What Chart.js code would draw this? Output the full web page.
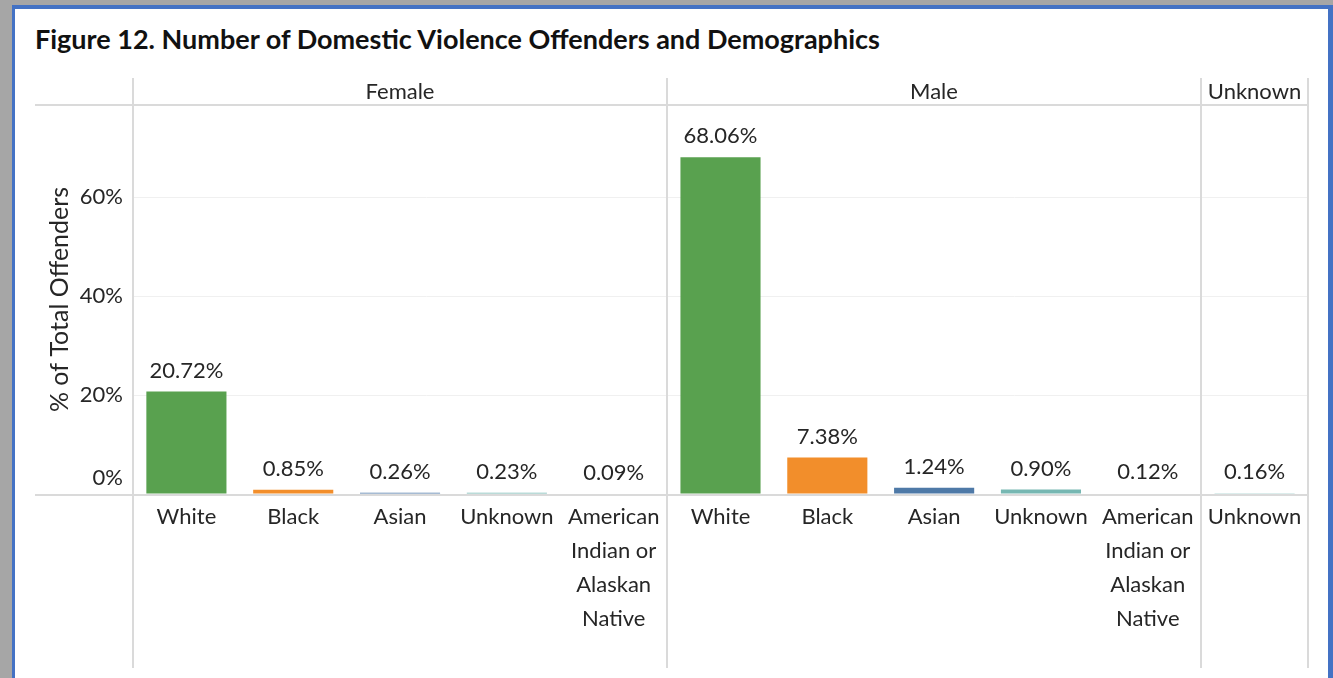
<!DOCTYPE html>
<html>
<head>
<meta charset="utf-8">
<script src="https://cdn.jsdelivr.net/npm/chart.js@4"></script>
<style>
  html, body { margin: 0; padding: 0; }
  body { width: 1333px; height: 678px; overflow: hidden; background: #a6a6a6; position: relative; font-family: Lato, "Open Sans", sans-serif; }
  #frame { position: absolute; left: 12px; top: 5px; width: 1313px; height: 700px; background: #fff; border: solid #4472c4; border-width: 4px 5px 0 3px; }
  #title { position: absolute; left: 35px; top: 24px; font: bold 27px/30px Lato, sans-serif; color: #111; white-space: nowrap; }
  #chart { position: absolute; left: 0; top: 0; }
</style>
</head>
<body>
<div id="frame"></div>
<div id="title">Figure 12. Number of Domestic Violence Offenders and Demographics</div>
<canvas id="chart" width="1333" height="678"></canvas>
<script>
// offender share by gender and race
const genders = ['Female', 'Male', 'Unknown'];
const genderSizes = [5, 5, 1];
const races = [
  ['White'], ['Black'], ['Asian'], ['Unknown'], ['American', 'Indian or', 'Alaskan', 'Native'],
  ['White'], ['Black'], ['Asian'], ['Unknown'], ['American', 'Indian or', 'Alaskan', 'Native'],
  ['Unknown']
];
const shares = [20.72, 0.85, 0.26, 0.23, 0.09, 68.06, 7.38, 1.24, 0.90, 0.12, 0.16];
const yTicks = [0, 20, 40, 60];

const raceColors = {
  'White': '#59a14f',
  'Black': '#f28e2b',
  'Asian': '#4e79a7',
  'Unknown': '#76b7b2',
  'American': '#edc948'
};

const lineColor = '#dadada';
const textColor = '#262626';
const labelFont = '22px Lato, sans-serif';

const panelPlugin = {
  id: 'panels',
  beforeDatasetsDraw(chart) {
    const { ctx, chartArea } = chart;
    const x = chart.scales.x;
    const y = chart.scales.y;
    const half = (x.getPixelForValue(1) - x.getPixelForValue(0)) / 2;
    const lineTop = chartArea.top - 27;
    const lineBottom = chart.height - 10;
    ctx.save();
    ctx.strokeStyle = lineColor;
    ctx.lineWidth = 2;

    // header rule and zero line
    const zero = Math.round(y.getPixelForValue(0));
    ctx.beginPath();
    ctx.moveTo(35, chartArea.top);
    ctx.lineTo(chartArea.right, chartArea.top);
    ctx.moveTo(35, zero + 1);
    ctx.lineTo(chartArea.right, zero + 1);
    ctx.stroke();

    // panel separators and headers
    ctx.font = labelFont;
    ctx.fillStyle = textColor;
    ctx.textAlign = 'center';
    ctx.textBaseline = 'middle';
    let start = 0;
    genders.forEach((g, i) => {
      const end = start + genderSizes[i] - 1;
      const left = Math.round(x.getPixelForValue(start) - half);
      const right = Math.round(x.getPixelForValue(end) + half);
      ctx.beginPath();
      ctx.moveTo(left, lineTop);
      ctx.lineTo(left, lineBottom);
      ctx.moveTo(right, lineTop);
      ctx.lineTo(right, lineBottom);
      ctx.stroke();
      ctx.fillText(g, (left + right) / 2, chartArea.top - 13);
      start = end + 1;
    });

    // value axis labels
    ctx.textAlign = 'right';
    yTicks.forEach(v => {
      const py = y.getPixelForValue(v) - (v === 0 ? 16 : 0);
      ctx.fillText(v + '%', chartArea.left - 10, py);
    });
    ctx.restore();
  },
  afterDatasetsDraw(chart) {
    const { ctx } = chart;
    const meta = chart.getDatasetMeta(0);
    ctx.save();
    ctx.font = labelFont;
    ctx.fillStyle = textColor;
    ctx.textAlign = 'center';
    ctx.textBaseline = 'middle';
    meta.data.forEach((bar, i) => {
      ctx.fillText(shares[i].toFixed(2) + '%', bar.x, bar.y - 21);
    });
    ctx.restore();
  }
};

new Chart(document.getElementById('chart'), {
  type: 'bar',
  data: {
    labels: races,
    datasets: [{
      data: shares,
      backgroundColor: races.map(r => raceColors[r[0]]),
      barPercentage: 0.75,
      categoryPercentage: 1
    }]
  },
  options: {
    responsive: false,
    animation: false,
    layout: { padding: { left: 35, right: 25, top: 105, bottom: 0 } },
    plugins: {
      legend: { display: false },
      tooltip: { enabled: false }
    },
    scales: {
      x: {
        grid: { display: false, drawTicks: false },
        border: { display: false },
        ticks: {
          autoSkip: false,
          maxRotation: 0,
          padding: 6,
          color: textColor,
          font: { family: 'Lato, sans-serif', size: 22, lineHeight: '34px' }
        },
        afterFit(scale) { scale.height = 184; }
      },
      y: {
        min: 0,
        max: 78.6,
        afterBuildTicks(scale) {
          scale.ticks = yTicks.map(v => ({ value: v }));
        },
        grid: {
          drawTicks: false,
          color: c => (c.tick && c.tick.value === 0) ? 'rgba(0,0,0,0)' : '#f0f0f0'
        },
        border: { display: false },
        ticks: { display: false },
        title: {
          display: true,
          text: '% of Total Offenders',
          color: textColor,
          font: { family: 'Lato, sans-serif', size: 25 },
          padding: { top: 10, bottom: 0 }
        },
        afterFit(scale) { scale.width = 98; }
      }
    }
  },
  plugins: [panelPlugin]
});
</script>
</body>
</html>
